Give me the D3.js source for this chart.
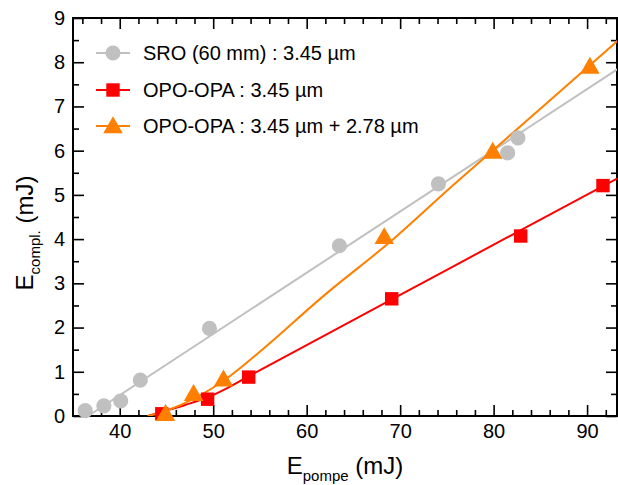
<!DOCTYPE html>
<html>
<head>
<meta charset="utf-8">
<script src="https://cdn.jsdelivr.net/npm/d3@7/dist/d3.min.js"></script>
<style>
  body { margin: 0; background: #fff; }
  svg { display: block; font-family: "Liberation Sans", Arial, sans-serif; }
</style>
</head>
<body>
<svg id="chart" width="618" height="485"></svg>
<script>
// ---- data ----
const sroX = [36.3, 38.3, 40.1, 42.2, 49.6, 63.5, 74.1, 81.5, 82.6];
const sroY = [0.12, 0.23, 0.34, 0.81, 1.98, 3.85, 5.25, 5.95, 6.29];
const sroFitX = [36.6, 93.3];
const sroFitY = [0.0, 7.85];

const opaX = [44.5, 49.4, 53.8, 69.1, 82.9, 91.7];
const opaY = [0.05, 0.38, 0.88, 2.65, 4.07, 5.21];
const opaFitX = [43.0, 44.6, 47.0, 49.4, 51.5, 53.8, 59.0, 75.3, 93.3];
const opaFitY = [0.0, 0.1, 0.25, 0.42, 0.63, 0.9, 1.49, 3.34, 5.38];

const dualX = [44.9, 47.9, 51.1, 68.3, 79.9, 90.3];
const dualY = [0.05, 0.5, 0.83, 4.05, 5.98, 7.9];
const dualFitX = [43.0, 45.0, 48.0, 51.0, 55.3, 62.0, 69.0, 75.3, 80.0, 93.3];
const dualFitY = [0.0, 0.12, 0.4, 0.78, 1.51, 2.75, 3.95, 5.15, 6.02, 8.49];

const seriesNames = ["SRO (60 mm) : 3.45 µm", "OPO-OPA : 3.45 µm", "OPO-OPA : 3.45 µm + 2.78 µm"];
const xMajorTicks = [40, 50, 60, 70, 80, 90];
const yMajorTicks = [0, 1, 2, 3, 4, 5, 6, 7, 8, 9];

// ---- layout ----
const svg = d3.select("#chart");
const L = 73, R = 617, T = 18, B = 416;
const x = d3.scaleLinear().domain([35, 93.2]).range([L, R]);
const y = d3.scaleLinear().domain([0, 9]).range([B, T]);

const xMinor = d3.range(36, 93.2, 2).filter(v => !xMajorTicks.includes(v));
const yMinor = d3.range(0.5, 9, 1);

svg.append("defs").append("clipPath").attr("id", "clip")
  .append("rect").attr("x", L).attr("y", T).attr("width", R - L).attr("height", B - T);

function styleAxis(g) {
  g.select(".domain").remove();
  g.selectAll(".tick line").attr("stroke", "#000").attr("stroke-width", 1.6);
  g.selectAll("text").attr("font-size", 20).attr("fill", "#000");
}

// bottom
svg.append("g").attr("transform", `translate(0,${B})`)
  .call(d3.axisBottom(x).tickValues(xMajorTicks).tickSizeInner(-11).tickSizeOuter(0).tickPadding(8).tickFormat(d3.format("d")))
  .call(styleAxis);
svg.append("g").attr("transform", `translate(0,${B})`)
  .call(d3.axisBottom(x).tickValues(xMinor).tickSizeInner(-6).tickSizeOuter(0).tickFormat(""))
  .call(styleAxis);
// top
svg.append("g").attr("transform", `translate(0,${T})`)
  .call(d3.axisTop(x).tickValues(xMajorTicks).tickSizeInner(-11).tickSizeOuter(0).tickFormat(""))
  .call(styleAxis);
svg.append("g").attr("transform", `translate(0,${T})`)
  .call(d3.axisTop(x).tickValues(xMinor).tickSizeInner(-6).tickSizeOuter(0).tickFormat(""))
  .call(styleAxis);
// left
svg.append("g").attr("transform", `translate(${L},0)`)
  .call(d3.axisLeft(y).tickValues(yMajorTicks).tickSizeInner(-11).tickSizeOuter(0).tickPadding(8).tickFormat(d3.format("d")))
  .call(styleAxis);
svg.append("g").attr("transform", `translate(${L},0)`)
  .call(d3.axisLeft(y).tickValues(yMinor).tickSizeInner(-6).tickSizeOuter(0).tickFormat(""))
  .call(styleAxis);
// right
svg.append("g").attr("transform", `translate(${R},0)`)
  .call(d3.axisRight(y).tickValues(yMajorTicks).tickSizeInner(-11).tickSizeOuter(0).tickFormat(""))
  .call(styleAxis);
svg.append("g").attr("transform", `translate(${R},0)`)
  .call(d3.axisRight(y).tickValues(yMinor).tickSizeInner(-6).tickSizeOuter(0).tickFormat(""))
  .call(styleAxis);

// frame
svg.append("rect").attr("x", L).attr("y", T).attr("width", R - L).attr("height", B - T)
  .attr("fill", "none").attr("stroke", "#000").attr("stroke-width", 2);

// ---- series ----
const colors = ["#c0c0c0", "#ff0000", "#ff8000"];
const line = d3.line().x(d => x(d[0])).y(d => y(d[1])).curve(d3.curveCatmullRom.alpha(0.5));
const plot = svg.append("g").attr("clip-path", "url(#clip)");
const zip = (a, b) => a.map((v, i) => [v, b[i]]);

const fits = [zip(sroFitX, sroFitY), zip(opaFitX, opaFitY), zip(dualFitX, dualFitY)];
const pts = [zip(sroX, sroY), zip(opaX, opaY), zip(dualX, dualY)];
const symbols = [d3.symbolCircle, d3.symbolSquare, d3.symbolTriangle];
const symSizes = [180, 180, 165];

const markG = svg.append("g");
for (let i = 0; i < 3; i++) {
  plot.append("path").datum(fits[i]).attr("d", line)
    .attr("fill", "none").attr("stroke", colors[i]).attr("stroke-width", 2);
  markG.selectAll(null).data(pts[i]).enter().append("path")
    .attr("transform", d => `translate(${x(d[0])},${y(d[1]) + (i === 2 ? 1.5 : 0)})`)
    .attr("d", d3.symbol().type(symbols[i]).size(symSizes[i]))
    .attr("fill", colors[i]);
}

// ---- legend ----
const legend = svg.append("g");
const legRows = [53, 90, 126];
seriesNames.forEach((name, i) => {
  const g = legend.append("g").attr("transform", `translate(0,${legRows[i]})`);
  g.append("line").attr("x1", 96).attr("x2", 130).attr("y1", 0).attr("y2", 0)
    .attr("stroke", colors[i]).attr("stroke-width", 2);
  g.append("path").attr("transform", `translate(113,${i === 2 ? 1.5 : 0})`)
    .attr("d", d3.symbol().type(symbols[i]).size(symSizes[i])).attr("fill", colors[i]);
  g.append("text").attr("x", 143).attr("y", 0).attr("dy", "0.35em")
    .attr("font-size", 20).attr("fill", "#000").text(name);
});

// ---- axis titles ----
const xt = svg.append("text").attr("x", 345).attr("y", 474).attr("text-anchor", "middle")
  .attr("font-size", 24).attr("fill", "#000");
xt.append("tspan").text("E");
xt.append("tspan").attr("font-size", 15).attr("dy", 7).text("pompe");
xt.append("tspan").attr("dy", -7).text(" (mJ)");

const yt = svg.append("text").attr("transform", "translate(33,233) rotate(-90)")
  .attr("text-anchor", "middle").attr("font-size", 24).attr("fill", "#000");
yt.append("tspan").text("E");
yt.append("tspan").attr("font-size", 15).attr("dy", 7).text("compl.");
yt.append("tspan").attr("dy", -7).text(" (mJ)");
</script>
</body>
</html>
